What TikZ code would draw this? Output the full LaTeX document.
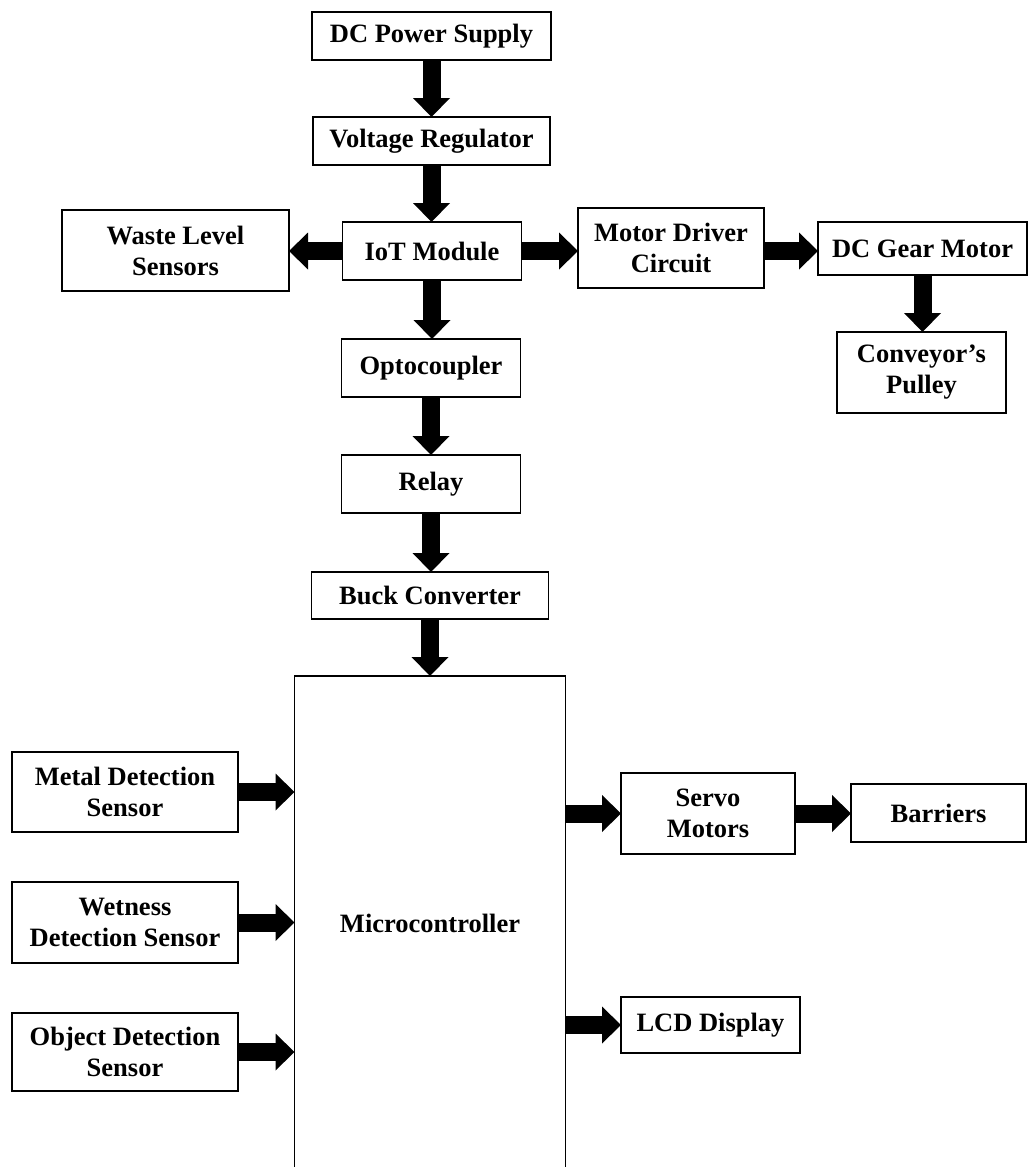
\documentclass[tikz,border=0pt]{standalone}
\usepackage{fontspec}
\setmainfont{Liberation Serif}
\usetikzlibrary{arrows.meta}
\begin{document}
\begin{tikzpicture}[x=1pt,y=-1pt,
  box/.style={draw, line width=1.3pt, outer sep=0pt, inner sep=2pt, align=center,
    font=\bfseries\fontsize{26.5}{31}\selectfont},
  flow/.style={line width=18pt, -{Triangle[length=19pt,width=37pt,line width=0pt]}}]
\useasboundingbox (0,0) rectangle (1030,1167);
\clip (0,0) rectangle (1030,1167);
\fill[white] (0,0) rectangle (1030,1167);
% nodes
\node[box, minimum width=239pt, minimum height=48pt] (dcps) at (431.5,36) {DC Power Supply};
\node[box, minimum width=237pt, minimum height=48pt] (vreg) at (431.5,141) {Voltage Regulator};
\node[box, minimum width=179pt, minimum height=58pt] (iot) at (432,251) {IoT Module};
\node[box, minimum width=227pt, minimum height=81pt] (waste) at (175.5,250.5) {Waste Level\\Sensors};
\node[box, minimum width=186pt, minimum height=80pt] (mdc) at (671,248) {Motor Driver\\Circuit};
\node[box, minimum width=209pt, minimum height=53pt] (dcgm) at (922.5,248.5) {DC Gear Motor};
\node[box, minimum width=169pt, minimum height=81pt] (pulley) at (921.5,372.5) {Conveyor’s\\Pulley};
\node[box, minimum width=179pt, minimum height=58pt] (opto) at (431,368) {Optocoupler};
\node[box, minimum width=179pt, minimum height=58pt] (relay) at (431,484) {Relay};
\node[box, minimum width=237pt, minimum height=47pt] (buck) at (430,595.5) {Buck Converter};
\node[box, minimum width=271pt, minimum height=494pt] (micro) at (430,923) {Microcontroller};
\node[box, minimum width=226pt, minimum height=80pt] (metal) at (125,792) {Metal Detection\\Sensor};
\node[box, minimum width=226pt, minimum height=81pt] (wet) at (125,922.5) {Wetness\\Detection Sensor};
\node[box, minimum width=226pt, minimum height=78pt] (obj) at (125,1052) {Object Detection\\Sensor};
\node[box, minimum width=174pt, minimum height=81pt] (servo) at (708,813.5) {Servo\\Motors};
\node[box, minimum width=175pt, minimum height=58pt] (barriers) at (938.5,813) {Barriers};
\node[box, minimum width=179pt, minimum height=56pt] (lcd) at (710.5,1025) {LCD Display};
% connectors
\draw[flow] (dcps.south) -- (vreg.north);
\draw[flow] (vreg.south) -- (vreg.south |- iot.north);
\draw[flow] (iot.south) -- (iot.south |- opto.north);
\draw[flow] (opto.south) -- (relay.north);
\draw[flow] (relay.south) -- (relay.south |- buck.north);
\draw[flow] (buck.south) -- (buck.south |- micro.north);
\draw[flow] (iot.west) -- (iot.west -| waste.east);
\draw[flow] (iot.east) -- (iot.east -| mdc.west);
\draw[flow] (iot.east -| mdc.east) -- (iot.east -| dcgm.west);
\draw[flow] (dcgm.south) -- (dcgm.south |- pulley.north);
\draw[flow] (metal.east) -- (metal.east -| micro.west);
\draw[flow] (wet.east) -- (wet.east -| micro.west);
\draw[flow] (obj.east) -- (obj.east -| micro.west);
\draw[flow] (servo.west -| micro.east) -- (servo.west);
\draw[flow] (servo.east) -- (servo.east -| barriers.west);
\draw[flow] (lcd.west -| micro.east) -- (lcd.west);
\end{tikzpicture}
\end{document}
